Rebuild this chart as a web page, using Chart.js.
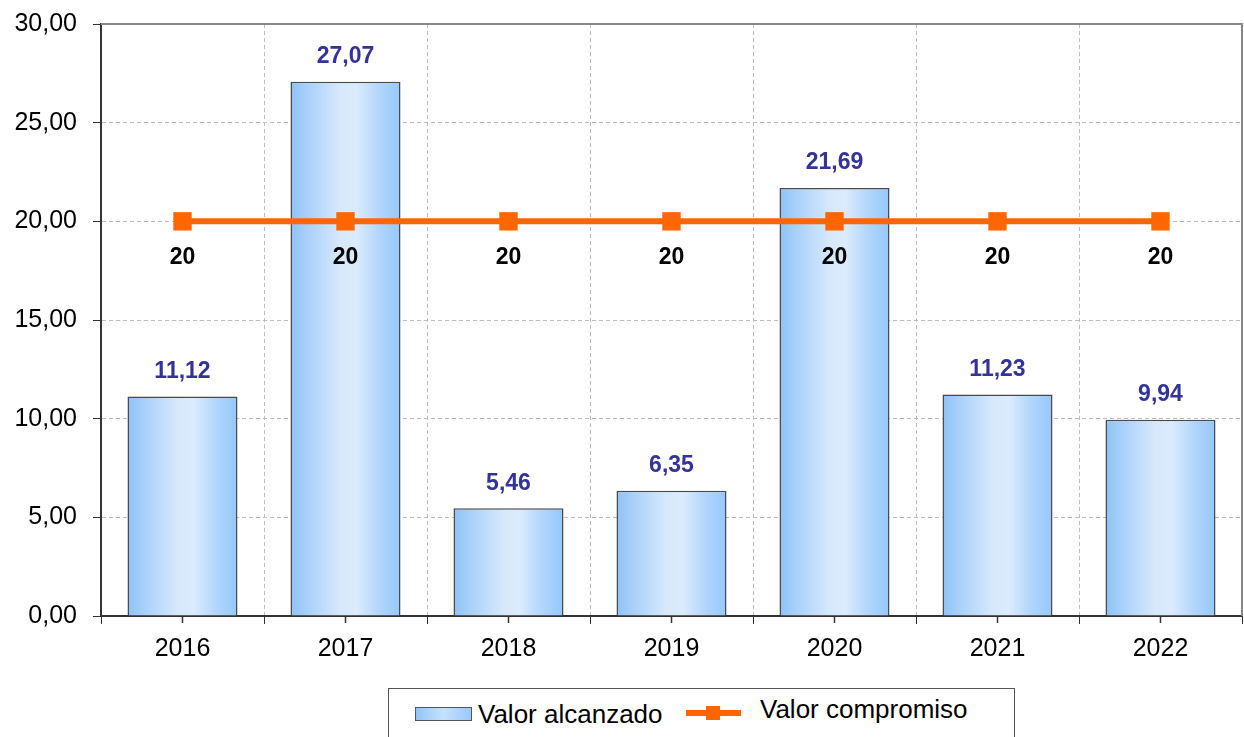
<!DOCTYPE html>
<html>
<head>
<meta charset="utf-8">
<script src="https://cdn.jsdelivr.net/npm/chart.js@4/dist/chart.umd.min.js"></script>
<style>
    body { margin: 0; background: #fff; overflow: hidden; }
    #wrap { position: relative; width: 1244px; height: 737px; }
    #legend {
        position: absolute; left: 388px; top: 688px; width: 627px; height: 70px;
        border: 1px solid #555; box-sizing: border-box; background: #fff;
        font-family: 'Liberation Sans', Arial, sans-serif; font-size: 26px; color: #000;
    }
    .sw-bar { position: absolute; left: 26px; top: 18px; width: 55px; height: 12px;
        border: 1px solid #555; background: linear-gradient(90deg, #92c5f8, #c6e1fb 50%, #99c9fe); }
    .sw-line { position: absolute; left: 297px; top: 21px; width: 55px; height: 6px; background: #ff6600; }
    .sw-dot { position: absolute; left: 317px; top: 17px; width: 14px; height: 14px; background: #ff6600; }
    .lbl { position: absolute; white-space: nowrap; }
</style>
</head>
<body>
<div id="wrap">
    <canvas id="bar-chart" width="1244" height="737"></canvas>
    <div id="legend">
        <div class="sw-bar"></div>
        <div class="lbl" style="left:89px; top:10px;">Valor alcanzado</div>
        <div class="sw-line"></div><div class="sw-dot"></div>
        <div class="lbl" style="left:371px; top:5px;">Valor compromiso</div>
    </div>
</div>
<script>
const years = ['2016', '2017', '2018', '2019', '2020', '2021', '2022'];
const alcanzado = [11.12, 27.07, 5.46, 6.35, 21.69, 11.23, 9.94];
const compromiso = [20, 20, 20, 20, 20, 20, 20];
const yTicks = [0, 5, 10, 15, 20, 25, 30];

const FONT = "'Liberation Sans', Arial, sans-serif";
const BAR_PCT = 0.675;

const fmt = (v) => v.toFixed(2).replace('.', ',');

// horizontal gradient per bar, like the old excel "cylinder" fill
function barFill(ctx) {
    const chart = ctx.chart;
    const x = chart.scales.x;
    if (!chart.chartArea || !x || ctx.type !== 'data') return '#b8d9fb';
    const c = x.getPixelForValue(ctx.dataIndex);
    const half = (x.width / years.length) * BAR_PCT / 2;
    const g = chart.ctx.createLinearGradient(c - half, 0, c + half, 0);
    g.addColorStop(0, '#8ec2f6');
    g.addColorStop(0.15, '#a8d0fa');
    g.addColorStop(0.45, '#d6e8fc');
    g.addColorStop(0.6, '#dcebfd');
    g.addColorStop(0.8, '#b3d6fb');
    g.addColorStop(1, '#94c7fe');
    return g;
}

const extras = {
    id: 'extras',
    afterDatasetsDraw(chart) {
        const ctx = chart.ctx;
        const area = chart.chartArea;
        const x = chart.scales.x;
        ctx.save();
        // top and right frame
        ctx.strokeStyle = '#888';
        ctx.lineWidth = 2;
        ctx.beginPath();
        ctx.moveTo(area.left, area.top);
        ctx.lineTo(area.right, area.top);
        ctx.lineTo(area.right, area.bottom);
        ctx.stroke();
        // small ticks under each category centre
        ctx.strokeStyle = '#333';
        ctx.lineWidth = 1.5;
        years.forEach((yr, i) => {
            const px = x.getPixelForValue(i);
            ctx.beginPath();
            ctx.moveTo(px, area.bottom);
            ctx.lineTo(px, area.bottom + 7);
            ctx.stroke();
        });
        ctx.textAlign = 'center';
        ctx.textBaseline = 'middle';
        ctx.font = 'bold 23px ' + FONT;
        // bar values
        ctx.fillStyle = '#333399';
        chart.getDatasetMeta(0).data.forEach((bar, i) => {
            ctx.fillText(fmt(alcanzado[i]), bar.x, bar.y - 25);
        });
        // line values
        ctx.fillStyle = '#000';
        chart.getDatasetMeta(1).data.forEach((pt, i) => {
            ctx.fillText(String(compromiso[i]), pt.x, pt.y + 36);
        });
        ctx.restore();
    }
};

new Chart(document.getElementById('bar-chart'), {
    type: 'bar',
    data: {
        labels: years,
        datasets: [{
            label: 'Valor alcanzado',
            data: alcanzado,
            backgroundColor: barFill,
            borderColor: '#4a4a4a',
            borderWidth: 1.5,
            categoryPercentage: 1,
            barPercentage: BAR_PCT,
            order: 2
        }, {
            type: 'line',
            label: 'Valor compromiso',
            data: compromiso,
            borderColor: '#ff6600',
            backgroundColor: '#ff6600',
            borderWidth: 6,
            pointStyle: 'rect',
            pointRadius: 13,
            pointBorderWidth: 0,
            fill: false,
            order: 1
        }]
    },
    options: {
        responsive: false,
        animation: false,
        layout: { autoPadding: false, padding: { top: 24, right: 2, left: 0, bottom: 71 } },
        plugins: {
            legend: { display: false },
            tooltip: { enabled: false }
        },
        scales: {
            x: {
                afterFit: (s) => { s.height = 50; s.paddingLeft = 0; s.paddingRight = 0; },
                grid: {
                    offset: true,
                    color: '#bdbdbd',
                    tickColor: '#333',
                    tickLength: 8,
                    tickBorderDash: []
                },
                border: { color: '#333', width: 2, dash: [4, 3] },
                ticks: { color: '#000', padding: 10, font: { family: FONT, size: 25 } }
            },
            y: {
                min: 0,
                max: 30,
                afterFit: (s) => { s.width = 101; s.paddingTop = 14; s.paddingBottom = 14; },
                afterBuildTicks: (s) => { s.ticks = yTicks.map(v => ({ value: v })); },
                grid: {
                    color: '#bdbdbd',
                    tickColor: '#333',
                    tickLength: 8,
                    tickBorderDash: []
                },
                border: { color: '#333', width: 2, dash: [4, 3] },
                ticks: {
                    color: '#000',
                    padding: 16,
                    font: { family: FONT, size: 25 },
                    callback: (v) => fmt(v)
                }
            }
        }
    },
    plugins: [extras]
});
</script>
</body>
</html>
